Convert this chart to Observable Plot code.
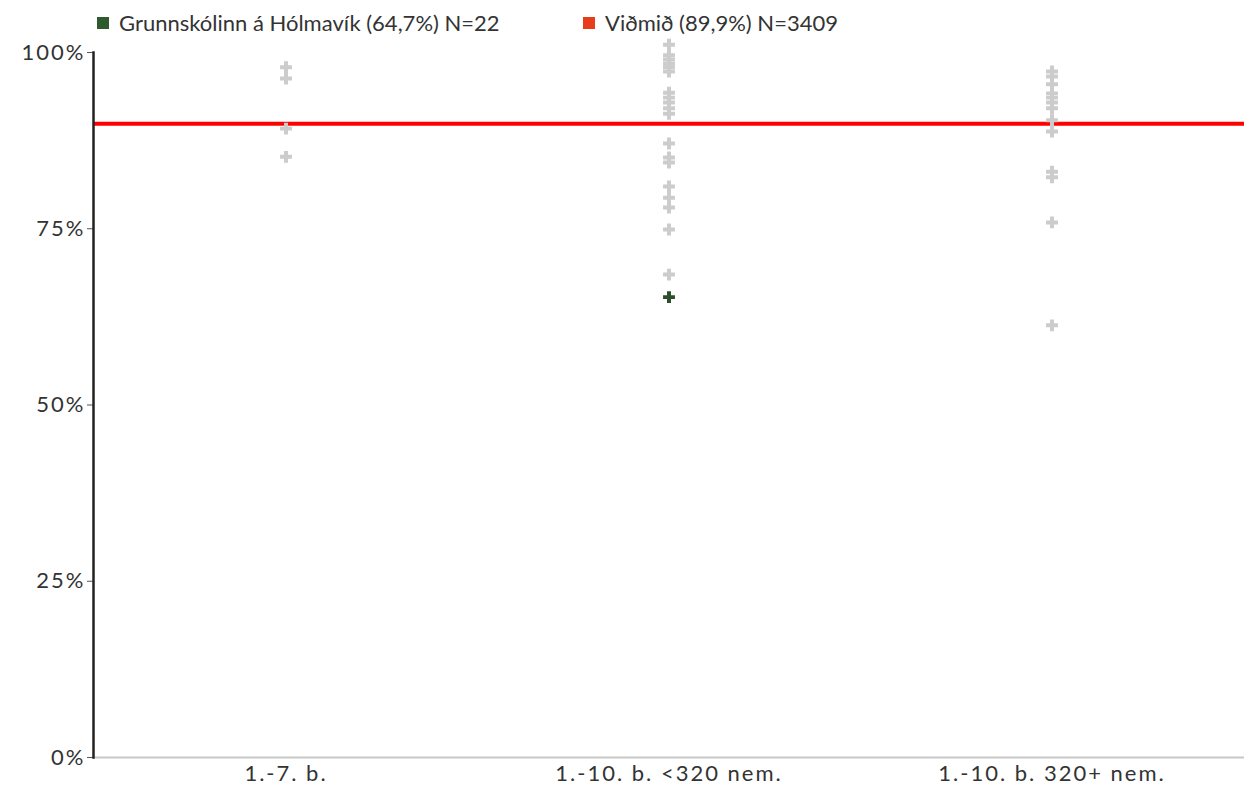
<!DOCTYPE html>
<html>
<head>
<meta charset="utf-8">
<script src="https://cdn.jsdelivr.net/npm/d3@7"></script>
<script src="https://cdn.jsdelivr.net/npm/@observablehq/plot@0.6"></script>
<style>
  body { margin: 0; background: #fff; font-family: Lato, "Open Sans", sans-serif; }
  #wrap { position: relative; width: 1244px; height: 789px; }
  #legend { position: absolute; top: 9px; left: 0; width: 1244px; height: 30px; font-size: 22px; color: #333; }
  .item { position: absolute; top: 0; display: flex; align-items: center; white-space: nowrap; }
  .sw { width: 12px; height: 12px; display: inline-block; margin-right: 10px; }
  svg { display: block; }
  svg g[aria-label="y-axis tick label"] text, svg g[aria-label="x-axis tick label"] text { letter-spacing: 2px; }
</style>
</head>
<body>
<div id="wrap">
  <div id="chart"></div>
  <div id="legend"></div>
</div>
<script>
const categories = ["1.-7. b.", "1.-10. b. <320 nem.", "1.-10. b. 320+ nem."];
const group1 = [0.979, 0.963, 0.892, 0.852];
const group2 = [1.011, 0.996, 0.990, 0.984, 0.979, 0.973, 0.943, 0.936, 0.929, 0.921, 0.913,
                0.871, 0.851, 0.844, 0.810, 0.794, 0.780, 0.749, 0.685];
const group3 = [0.973, 0.966, 0.955, 0.942, 0.936, 0.929, 0.921, 0.904, 0.888, 0.831, 0.823, 0.759, 0.613];
const schoolCategory = "1.-10. b. <320 nem.";
const schoolValue = 0.653;
const benchmark = 0.899;
const legendLabels = ["Grunnskólinn á Hólmavík (64,7%) N=22", "Viðmið (89,9%) N=3409"];
const yTicks = [0, 0.25, 0.5, 0.75, 1];

const others = [
  ...group1.map(v => ({cat: categories[0], v})),
  ...group2.map(v => ({cat: categories[1], v})),
  ...group3.map(v => ({cat: categories[2], v}))
];

const chart = Plot.plot({
  width: 1244,
  height: 789,
  marginLeft: 93,
  marginRight: 0,
  marginTop: 52,
  marginBottom: 32,
  style: {fontFamily: "Lato, 'Open Sans', sans-serif", fontSize: "22px", color: "#333", background: "#fff"},
  x: {type: "band", domain: categories, padding: 0, label: null},
  y: {domain: [0, 1], label: null},
  marks: [
    Plot.frame({anchor: "bottom", stroke: "#c8c8c8", strokeWidth: 2}),
    Plot.axisY({ticks: yTicks, tickFormat: d => Math.round(d * 100) + "%", tickSize: 6, tickPadding: 2, stroke: "#555", fontSize: 22, label: null}),
    Plot.axisX({tickSize: 0, tickPadding: 8, fontSize: 22, label: null}),
    Plot.ruleY([benchmark], {stroke: "#ff0000", strokeWidth: 4}),
    Plot.dot(others, {x: "cat", y: "v", symbol: "cross", r: 5, fill: "#cccccc", stroke: null}),
    Plot.dot([{cat: schoolCategory, v: schoolValue}], {x: "cat", y: "v", symbol: "cross", r: 5, fill: "#2b4f2b", stroke: null}),
    Plot.frame({anchor: "left", stroke: "#222", strokeWidth: 2.5})
  ]
});
document.getElementById("chart").appendChild(chart);

const legend = document.getElementById("legend");
const items = [
  {label: legendLabels[0], color: "#2e5a2e", left: 97},
  {label: legendLabels[1], color: "#e63e1c", left: 583}
];
for (const it of items) {
  const d = document.createElement("div");
  d.className = "item";
  d.style.left = it.left + "px";
  const s = document.createElement("span");
  s.className = "sw";
  s.style.background = it.color;
  const t = document.createElement("span");
  t.textContent = it.label;
  d.appendChild(s); d.appendChild(t);
  legend.appendChild(d);
}
</script>
</body>
</html>
